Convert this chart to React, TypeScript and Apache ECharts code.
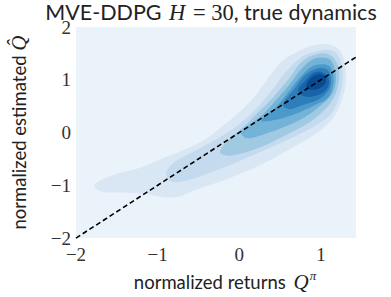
import React, { useEffect, useRef } from "react";
import * as echarts from "echarts";

const X_RANGE = [-2, 1.43];
const Y_RANGE = [-2, 2];
const DIAGONAL = [
  [-2, -2],
  [1.43, 1.43],
];

// KDE contour outlines (data coordinates), outermost first
const LEVEL_1 = [
  [-1.775, -0.993], [-1.692, -0.901], [-1.479, -0.771], [-1.207, -0.66], [-0.923, -0.477],
  [-0.651, -0.311], [-0.414, -0.127], [-0.213, 0.112], [-0.024, 0.352], [0.178, 0.665],
  [0.379, 1.088], [0.533, 1.365], [0.734, 1.549], [0.923, 1.659], [1.124, 1.659],
  [1.243, 1.53], [1.302, 1.217], [1.302, 0.904], [1.266, 0.665], [1.183, 0.352],
  [1.089, 0.168], [0.923, -0.035], [0.686, -0.256], [0.497, -0.422], [0.296, -0.587],
  [0.059, -0.753], [-0.213, -0.919], [-0.497, -1.066], [-0.651, -1.158], [-0.734, -1.214],
  [-0.888, -1.232], [-1.089, -1.177], [-1.361, -1.14], [-1.68, -1.122], [-1.763, -1.048],
];
const LEVEL_2 = [
  [-0.888, -0.716], [-0.769, -0.532], [-0.497, -0.311], [-0.26, -0.109], [-0.024, 0.131],
  [0.178, 0.407], [0.379, 0.757], [0.568, 1.144], [0.769, 1.438], [0.97, 1.549],
  [1.148, 1.549], [1.243, 1.346], [1.266, 0.978], [1.207, 0.61], [1.124, 0.352],
  [0.97, 0.168], [0.686, -0.072], [0.45, -0.238], [0.178, -0.422], [-0.095, -0.606],
  [-0.379, -0.772], [-0.615, -0.901], [-0.805, -0.937], [-0.888, -0.845],
];
const LEVEL_3 = [
  [-0.237, -0.366], [-0.095, -0.09], [0.095, 0.168], [0.26, 0.425], [0.414, 0.665],
  [0.615, 1.033], [0.769, 1.346], [0.97, 1.494], [1.124, 1.457], [1.207, 1.273],
  [1.219, 0.978], [1.16, 0.665], [1.041, 0.425], [0.852, 0.186], [0.568, -0.053],
  [0.296, -0.256], [0.059, -0.385], [-0.142, -0.44],
];
const LEVEL_4 = [
  [0.024, 0.002], [0.142, 0.168], [0.296, 0.352], [0.45, 0.61], [0.615, 0.904],
  [0.769, 1.217], [0.923, 1.401], [1.089, 1.401], [1.16, 1.254], [1.183, 0.978],
  [1.124, 0.702], [0.97, 0.481], [0.769, 0.26], [0.533, 0.094], [0.296, -0.035],
  [0.095, -0.109],
];
const LEVEL_5 = [
  [0.272, 0.223], [0.45, 0.481], [0.615, 0.794], [0.769, 1.088], [0.923, 1.273],
  [1.089, 1.273], [1.148, 1.125], [1.148, 0.904], [1.089, 0.665], [0.923, 0.517],
  [0.686, 0.352], [0.45, 0.241],
];
const LEVEL_6 = [
  [0.533, 0.536], [0.686, 0.849], [0.805, 1.088], [0.97, 1.217], [1.089, 1.18],
  [1.124, 0.996], [1.089, 0.794], [0.97, 0.628], [0.769, 0.517], [0.615, 0.444],
];
const LEVEL_7 = [
  [0.722, 0.794], [0.805, 0.978], [0.923, 1.144], [1.041, 1.125], [1.101, 0.978],
  [1.065, 0.812], [0.947, 0.702], [0.805, 0.683],
];
const LEVEL_8 = [
  [0.817, 0.867], [0.876, 1.033], [0.97, 1.107], [1.053, 1.052], [1.053, 0.923],
  [0.97, 0.831], [0.876, 0.812],
];

const CONTOURS = [LEVEL_1, LEVEL_2, LEVEL_3, LEVEL_4, LEVEL_5, LEVEL_6, LEVEL_7, LEVEL_8];
const LEVEL_COLORS = [
  "#d9e7f5", "#c4daee", "#9fcae1", "#74b3d8", "#4d99ca", "#2f7ebc", "#1764ab", "#084a91",
];
const BACKGROUND = "#eaf2fa";

const SANS = "Lato";
const SERIF = "Liberation Serif";

function fmt(v: number): string {
  if (Math.abs(v - Math.round(v)) > 1e-6) return "";
  const r = Math.round(v);
  return r < 0 ? "\u2212" + Math.abs(r) : String(r);
}

export default function App() {
  const ref = useRef<HTMLDivElement>(null);
  useEffect(() => {
    if (!ref.current) return;
    const chart = echarts.init(ref.current, null, { renderer: "svg" });
    const option: any = {
      animation: false,
      backgroundColor: "#ffffff",
      grid: {
        left: 65,
        right: 35,
        top: 27,
        bottom: 53,
        show: true,
        backgroundColor: BACKGROUND,
        borderWidth: 0,
      },
      graphic: [
        {
          type: "text",
          x: 211,
          y: 1,
          style: {
            text: "{s|MVE-DDPG }{i|H}{m| = 30}{s|, true dynamics}",
            align: "center",
            verticalAlign: "top",
            rich: {
              s: { fontFamily: SANS, fontSize: 21.5, fill: "#222", lineHeight: 22 },
              i: { fontFamily: SERIF, fontStyle: "italic", fontSize: 22.5, fill: "#222", padding: [0, 2, 0, 2], lineHeight: 22 },
              m: { fontFamily: SERIF, fontSize: 22.5, fill: "#222", lineHeight: 22 },
            },
          },
        },
      ],
      xAxis: {
        type: "value",
        min: X_RANGE[0],
        max: X_RANGE[1],
        interval: 1,
        axisLine: { show: false },
        axisTick: { show: false },
        splitLine: { show: false },
        axisLabel: {
          formatter: fmt,
          fontFamily: SERIF,
          fontSize: 19,
          color: "#333",
          margin: 7,
          showMaxLabel: false,
        },
        name: "{s|normalized returns }{q|Q}{p|\u03c0}",
        nameLocation: "middle",
        nameGap: 26,
        nameTextStyle: {
          padding: [0, 0, 0, 18],
          rich: {
            s: { fontFamily: SANS, fontSize: 18.5, color: "#222" },
            q: { fontFamily: SERIF, fontStyle: "italic", fontSize: 21, color: "#222", padding: [0, 0, 0, 3] },
            p: { fontFamily: SERIF, fontStyle: "italic", fontSize: 13, color: "#222", verticalAlign: "top", padding: [0, 0, 12, 1] },
          },
        },
      },
      yAxis: {
        type: "value",
        min: Y_RANGE[0],
        max: Y_RANGE[1],
        interval: 1,
        axisLine: { show: false },
        axisTick: { show: false },
        splitLine: { show: false },
        axisLabel: {
          formatter: fmt,
          fontFamily: SERIF,
          fontSize: 19,
          color: "#333",
          margin: 5,
        },
        name: "{s|normalized estimated }{q|Q\u0302}",
        nameLocation: "middle",
        nameRotate: 90,
        nameGap: 47,
        nameTextStyle: {
          rich: {
            s: { fontFamily: SANS, fontSize: 18.5, color: "#222" },
            q: { fontFamily: SERIF, fontStyle: "italic", fontSize: 21, color: "#222" },
          },
        },
      },
      series: [
        {
          type: "custom",
          coordinateSystem: "cartesian2d",
          data: CONTOURS.map((c) => c[0]),
          silent: true,
          clip: true,
          renderItem: (params: any, api: any) => {
            const poly = CONTOURS[params.dataIndex];
            const pts = poly.map((p) => api.coord(p));
            return {
              type: "polygon",
              shape: { points: pts, smooth: 0.35 },
              style: { fill: LEVEL_COLORS[params.dataIndex], stroke: "none" },
            };
          },
          z: 1,
        },
        {
          type: "line",
          data: DIAGONAL,
          symbol: "none",
          silent: true,
          lineStyle: { color: "#000", width: 1.6, type: [5, 3] },
          z: 5,
        },
      ],
    };
    chart.setOption(option);
    return () => chart.dispose();
  }, []);
  return <div ref={ref} style={{ width: 391, height: 297, position: "absolute", left: 0, top: 0 }} />;
}
